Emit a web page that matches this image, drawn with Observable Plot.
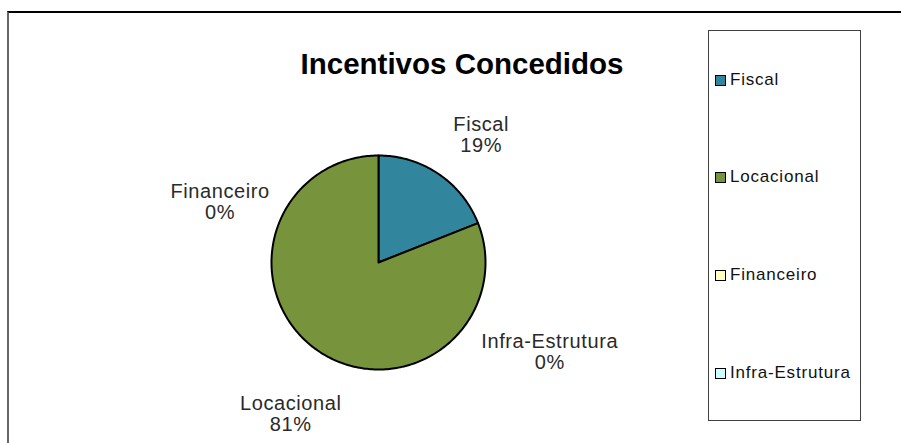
<!DOCTYPE html>
<html>
<head>
<meta charset="utf-8">
<script src="https://cdn.jsdelivr.net/npm/d3@7"></script>
<script src="https://cdn.jsdelivr.net/npm/@observablehq/plot@0.6"></script>
<style>
  html, body { margin: 0; padding: 0; background: #fff; }
  #wrap { position: relative; width: 901px; height: 443px; overflow: hidden; font-family: "Liberation Sans", Arial, sans-serif; }
  #frame { position: absolute; left: 7px; top: 11px; width: 900px; height: 440px; border-top: 2px solid #000; border-left: 2px solid #666; box-sizing: border-box; }
  #title { position: absolute; left: 462px; top: 47px; transform: translateX(-50%); font-size: 29.5px; font-weight: bold; color: #000; white-space: nowrap; line-height: normal; }
  #legend { position: absolute; left: 708px; top: 30px; width: 153px; height: 391px; border: 1.5px solid #404040; box-sizing: border-box; }
  .item { position: absolute; left: 6px; display: flex; align-items: center; height: 20px; font-size: 17px; letter-spacing: 0.8px; color: #111; white-space: nowrap; }
  .sw { width: 9px; height: 9px; border: 1.5px solid #000; margin-right: 4px; }
  #chart { position: absolute; left: 0; top: 0; }
</style>
</head>
<body>
<div id="wrap">
  <div id="frame"></div>
  <div id="chart"></div>
  <div id="title">Incentivos Concedidos</div>
  <div id="legend"></div>
</div>
<script>
// ---- data ----
const categories = ["Fiscal", "Locacional", "Financeiro", "Infra-Estrutura"];
const values = [19, 81, 0, 0];
const percentLabels = ["19%", "81%", "0%", "0%"];
const colors = ["#31859C", "#77933C", "#FFFFC0", "#CCFFFF"];

// ---- layout (label placement in pie-radius units) ----
const labelPos = {
  "Fiscal": [0.96, 1.19],
  "Locacional": [-0.82, -1.41],
  "Financeiro": [-1.48, 0.57],
  "Infra-Estrutura": [1.60, -0.83]
};

const total = d3.sum(values);
const slices = [];
let acc = 0;
categories.forEach((name, i) => {
  const a0 = acc / total * 2 * Math.PI;
  acc += values[i];
  const a1 = acc / total * 2 * Math.PI;
  if (values[i] <= 0) return;
  slices.push({name, x: 0, y: 0});
  const n = Math.max(2, Math.ceil((a1 - a0) / (Math.PI / 180)));
  for (let k = 0; k <= n; k++) {
    const a = a0 + (a1 - a0) * k / n;
    slices.push({name, x: Math.sin(a), y: Math.cos(a)});
  }
});

const labels = categories.map((name, i) => ({
  name,
  text: name + "\n" + percentLabels[i],
  x: labelPos[name][0],
  y: labelPos[name][1]
}));

const plot = Plot.plot({
  width: 901,
  height: 443,
  margin: 0,
  x: {domain: [-1, 1], range: [271, 485], axis: null},
  y: {domain: [-1, 1], range: [369, 155], axis: null},
  color: {domain: categories, range: colors},
  style: {background: "transparent", fontFamily: "'Liberation Sans', Arial, sans-serif", letterSpacing: "0.6px"},
  marks: [
    Plot.line(slices, {x: "x", y: "y", z: "name", fill: "name", stroke: "#000", strokeWidth: 2, strokeLinejoin: "round", curve: "linear-closed"}),
    Plot.text(labels, {x: "x", y: "y", text: "text", fontSize: 20, lineHeight: 1.05, fill: "#2a2a2a", textAnchor: "middle"})
  ]
});
document.getElementById("chart").appendChild(plot);

// legend built from the same arrays
const legend = document.getElementById("legend");
const itemCenters = [49, 146, 244, 342];
categories.forEach((name, i) => {
  const it = document.createElement("div");
  it.className = "item";
  it.style.top = (itemCenters[i] - 10) + "px";
  const sw = document.createElement("div");
  sw.className = "sw";
  sw.style.background = colors[i];
  const t = document.createElement("span");
  t.textContent = name;
  it.appendChild(sw);
  it.appendChild(t);
  legend.appendChild(it);
});
</script>
</body>
</html>
